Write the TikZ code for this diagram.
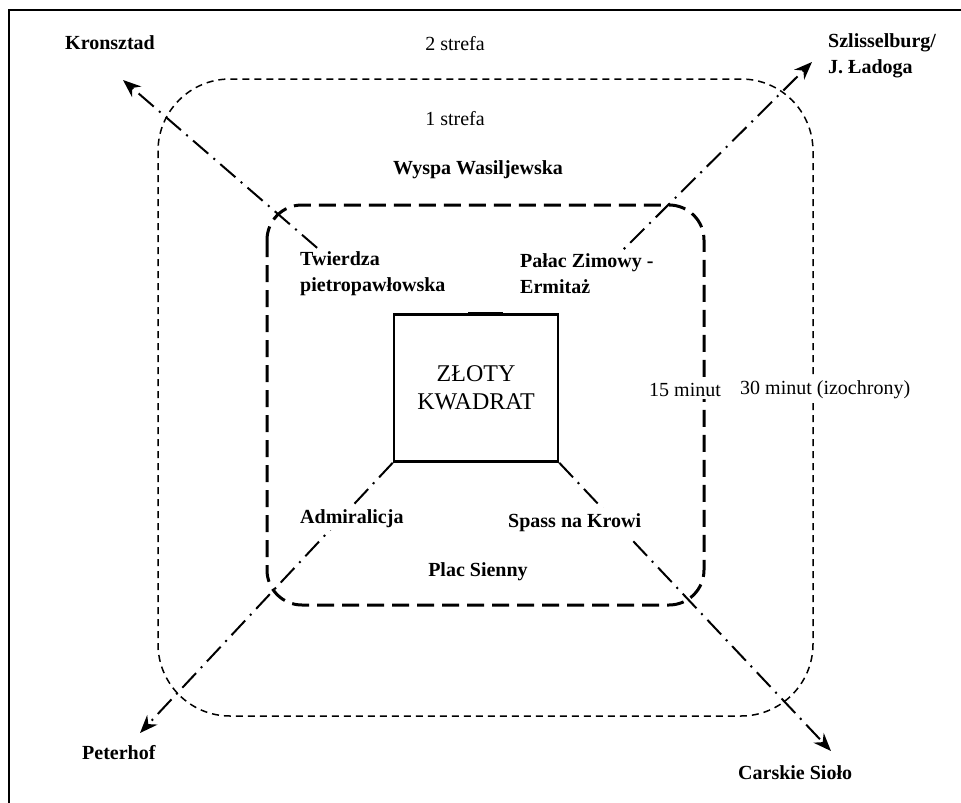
\documentclass[tikz,border=0pt]{standalone}
\usepackage{fontspec}
\setmainfont{Liberation Serif}
\usetikzlibrary{arrows.meta, calc}
\tikzstyle{place} = [font=\fontsize{20}{26}\selectfont\bfseries, fill=white, inner sep=2pt, align=left, anchor=west]
\tikzstyle{zone} = [font=\fontsize{20}{26}\selectfont, fill=white, inner sep=2pt]
\tikzstyle{kwadratBox} = [rectangle, draw=black, line width=2.5pt, minimum width=164pt, minimum height=147pt, align=center, font=\fontsize{24}{28}\selectfont]
\tikzstyle{route} = [line width=2pt, dash pattern=on 20pt off 7pt on 2pt off 7pt, -{Stealth[length=18pt,width=14pt]}]
\tikzstyle{isoOuter} = [line width=1.5pt, dash pattern=on 7pt off 5pt, rounded corners=72pt]
\tikzstyle{isoInner} = [line width=3pt, dash pattern=on 17pt off 8pt, rounded corners=35pt]
\begin{document}
\begin{tikzpicture}[x=1pt, y=-1pt]

\useasboundingbox (0,0) rectangle (961,803);
\clip (0,0) rectangle (961,803);
\draw[line width=1.5pt] (9,10) rectangle (985,825);

\draw[isoOuter] (158,79) rectangle (813,716);
\draw[isoInner] (267,205) rectangle (704,605);

\node (kwadrat) [kwadratBox] at (476,388) {ZŁOTY\\KWADRAT};
\draw[line width=3.5pt] ($(kwadrat.north)+(-8,0)$) -- ($(kwadrat.north)+(27,0)$);

\coordinate (kronsztadTip) at (123,80);
\coordinate (szlisselburgTip) at (812,62);
\coordinate (peterhofTip) at (140,733);
\coordinate (carskieTip) at (831,751);

\draw[route, shorten <=28pt] (kwadrat.north west) -- (kronsztadTip);
\draw[route, shorten <=28pt] (kwadrat.north east) -- (szlisselburgTip);
\draw[route] (kwadrat.south west) -- (peterhofTip);
\draw[route] (kwadrat.south east) -- (carskieTip);

\node (strefaDwa) [zone] at (455,44) {2 strefa};
\node (strefaJeden) [zone] at (455,119) {1 strefa};
\node (minut15) [zone, anchor=west] at (647,390) {15 minut};
\node (minut30) [zone, anchor=west] at (738,390) {30 minut (izochrony)};

\node (kronsztad) [place] at (63,43) {Kronsztad};
\node (szlisselburg) [place] at (826,56) {Szlisselburg/\\J. Ładoga};
\node (wyspa) [place, anchor=center] at (478,170) {Wyspa Wasiljewska};
\node (twierdza) [place] at (298,274) {Twierdza\\pietropawłowska};
\node (palac) [place] at (518,274) {Pałac Zimowy -\\Ermitaż};
\node (admiralicja) [place] at (298,519) {Admiralicja};
\node (spass) [place, inner ysep=6pt] at (506,523) {Spass na Krowi};
\node (placSienny) [place, anchor=center] at (478,572) {Plac Sienny};
\node (peterhof) [place] at (80,753) {Peterhof};
\node (carskie) [place] at (736,773) {Carskie Sioło};

\end{tikzpicture}
\end{document}
